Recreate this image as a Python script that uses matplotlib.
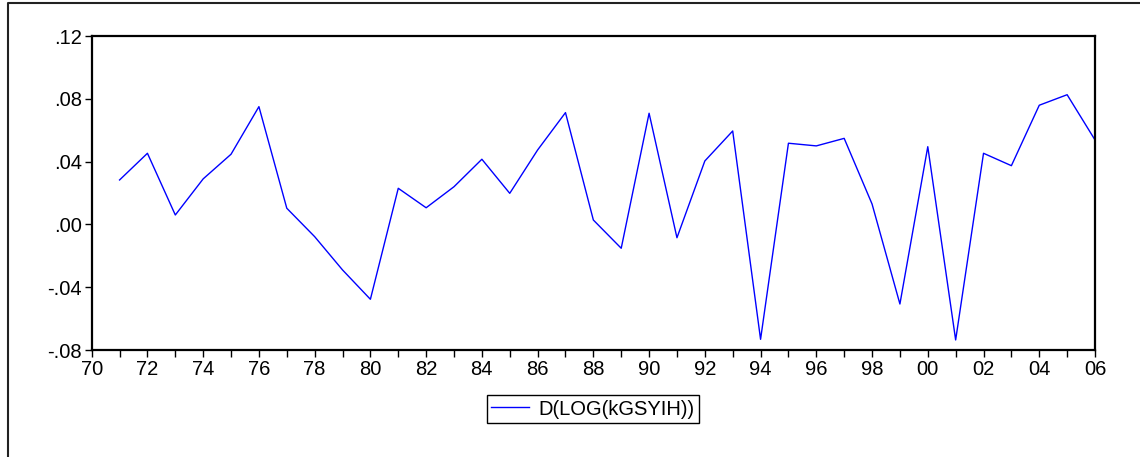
import matplotlib
matplotlib.use("Agg")
import matplotlib.pyplot as plt
from matplotlib.lines import Line2D
from matplotlib.ticker import MultipleLocator, FuncFormatter

years = list(range(1971, 2007))
values = [0.0283, 0.0453, 0.0060, 0.0290, 0.0447, 0.0750, 0.0103, -0.0078,
          -0.0290, -0.0477, 0.0230, 0.0106, 0.0240, 0.0415, 0.0198, 0.0474,
          0.0712, 0.0028, -0.0152, 0.0708, -0.0085, 0.0404, 0.0595, -0.0732,
          0.0517, 0.0500, 0.0548, 0.0130, -0.0507, 0.0495, -0.0736, 0.0453,
          0.0374, 0.0759, 0.0826, 0.0538]
series_label = "D(LOG(kGSYIH))"
y_ticks = [-0.08, -0.04, 0.00, 0.04, 0.08, 0.12]

plt.rcParams['font.family'] = ['Liberation Sans', 'DejaVu Sans']

fig = plt.figure(figsize=(11.4, 4.57), dpi=100)
ax = fig.add_axes([91.7 / 1140, 1 - 350 / 457, (1095 - 91.7) / 1140, (350 - 36) / 457])

line, = ax.plot(years, values, color='#0000FF', linewidth=1.0, label=series_label)

ax.set_xlim(1970, 2006)
ax.set_ylim(-0.08, 0.12)
ax.xaxis.set_major_locator(MultipleLocator(2))
ax.xaxis.set_minor_locator(MultipleLocator(1))
ax.xaxis.set_major_formatter(FuncFormatter(lambda v, p: f"{int(round(v)) % 100:02d}"))
ax.set_yticks(y_ticks)
ax.yaxis.set_major_formatter(FuncFormatter(
    lambda v, p: ("-" if v < -1e-9 else "") + f"{abs(v):.2f}".lstrip("0")))

ax.tick_params(axis='both', which='both', direction='out', labelsize=14.5,
               width=1.0, color='black')
ax.tick_params(axis='both', which='major', length=5)
ax.tick_params(axis='x', which='minor', length=5)
ax.tick_params(axis='x', pad=2)
ax.tick_params(axis='y', pad=2)

for s in ax.spines.values():
    s.set_linewidth(1.6)
    s.set_color('black')

# outer frame
fx = 8 / 1140
fy = 1 - 3 / 457
fig.add_artist(Line2D([fx, fx, 1.0], [0.0, fy, fy], transform=fig.transFigure,
                      color='#222222', linewidth=1.5))

leg = fig.legend(handles=[line], loc='center', bbox_to_anchor=(0.520, 0.105),
                 fontsize=14.5, frameon=True, fancybox=False, edgecolor='black',
                 framealpha=1, handlelength=1.9, borderpad=0.2,
                 handletextpad=0.45, borderaxespad=0)
leg.get_frame().set_linewidth(1.0)

fig.savefig("out.png", dpi=100)
